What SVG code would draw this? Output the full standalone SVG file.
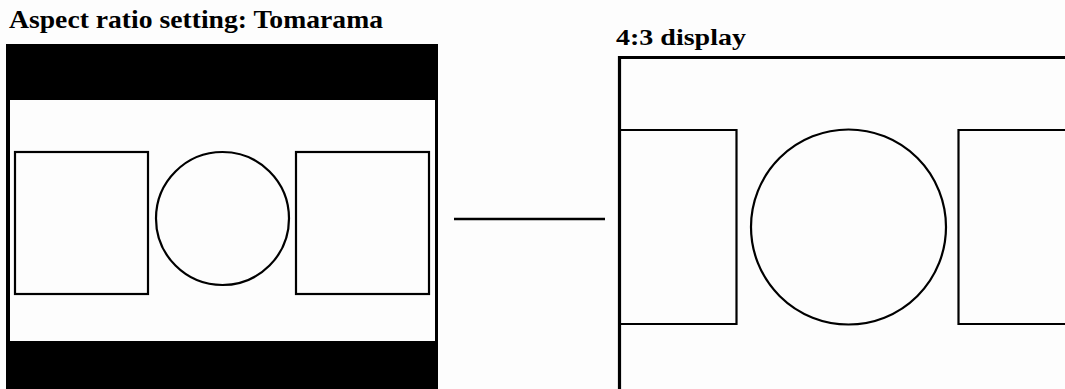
<svg xmlns="http://www.w3.org/2000/svg" width="1065" height="389" viewBox="0 0 1065 389">
<style>
.t{font-family:"Liberation Serif","Times New Roman",serif;font-weight:bold;fill:#000}
.s{fill:none;stroke:#000;stroke-width:2.2}
</style>
<rect width="1065" height="389" fill="#fdfdfd"/>
<g id="source">
<text class="t" x="9" y="28" font-size="25.5" textLength="374" lengthAdjust="spacingAndGlyphs">Aspect ratio setting: Tomarama</text>
<rect x="6" y="44" width="432" height="345" fill="#000"/>
<rect x="10" y="100" width="425" height="241" fill="#fdfdfd"/>
<rect class="s" x="15" y="152" width="133" height="142"/>
<circle class="s" cx="222.5" cy="218.5" r="66.5"/>
<rect class="s" x="296" y="152" width="133" height="142"/>
</g>
<g id="connectors">
<line x1="454" y1="219" x2="605" y2="219" stroke="#000" stroke-width="2.5"/>
</g>
<g id="display">
<text class="t" x="616" y="45" font-size="24" textLength="130" lengthAdjust="spacingAndGlyphs">4:3 display</text>
<path d="M619.5 392 V57.5 H1068" fill="none" stroke="#000" stroke-width="3.2"/>
<path class="s" d="M619.5 130 H736.5 V324 H619.5"/>
<circle class="s" cx="848.5" cy="227" r="97.5"/>
<path class="s" d="M1068 130 H958.5 V324 H1068"/>
</g>
</svg>
